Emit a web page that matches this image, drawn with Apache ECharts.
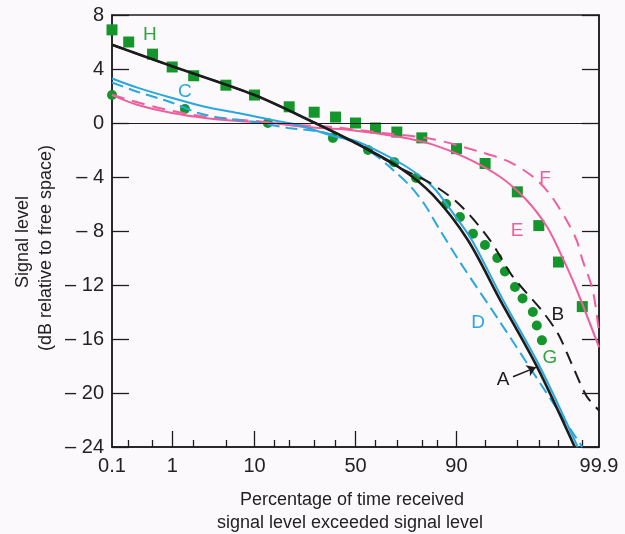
<!DOCTYPE html>
<html>
<head>
<meta charset="utf-8">
<script src="https://cdn.jsdelivr.net/npm/echarts@6/dist/echarts.min.js"></script>
<style>
  html, body { margin: 0; padding: 0; background: #fcf9fc; }
  #chart { width: 625px; height: 534px; }
</style>
</head>
<body>
<div id="chart"></div>
<script>
// percentage of time the received level is exceeded, and level in dB
const pctA = [0.1, 1, 10, 30.4, 50, 71.4, 83.7, 92.3, 96.67, 98.94, 99.73]
const dbA = [5.8, 4.2, 2.07, 0, -1.48, -3.33, -5.33, -8.67, -13.1, -18.07, -24]

const pctB = [0.1, 1, 10, 30.4, 50, 71.4, 82.8, 90.75, 95.6, 97.65, 99.1, 99.49, 99.7, 99.83, 99.9]
const dbB = [5.8, 4.2, 2.07, 0, -1.48, -3.33, -4.44, -6.07, -8.67, -11.3, -13.9, -15.6, -17.9, -20.2, -21.3]

const pctC = [0.1, 0.29, 1, 2.8, 6.8, 14.5, 23.3, 38.7, 50, 62.2, 74.3, 83.7, 89.2, 93.0, 96.94, 99.04, 99.76]
const dbC = [3.3, 2.6, 1.85, 1.2, 0.74, 0.22, -0.15, -0.96, -1.33, -2.15, -3.26, -4.74, -6.67, -8.67, -13.1, -18.07, -24]

const pctD = [0.1, 0.29, 1, 2.3, 4.6, 10, 19.6, 33.5, 50, 59.8, 68.3, 75.6, 81.1, 85.8, 90.75, 96.67, 99.04, 99.8]
const dbD = [3.0, 2.3, 1.5, 0.74, 0.37, 0.07, -0.37, -0.67, -1.48, -2.37, -3.48, -4.67, -6.07, -7.93, -10.3, -14.74, -19.26, -24]

const pctE = [0.1, 0.29, 1, 2.8, 6.8, 14.5, 26, 47, 71.4, 83.7, 92.1, 96.7, 98.5, 99.25, 99.53, 99.73, 99.9]
const dbE = [2.07, 1.33, 0.74, 0.37, 0.15, 0, -0.3, -0.52, -1.04, -1.6, -2.6, -4.0, -5.7, -7.7, -9.6, -12, -16.6]

const pctF = [0.1, 0.3, 1, 3, 10, 20, 38.7, 63.7, 83.7, 94.7, 97.5, 98.8, 99.3, 99.63, 99.75, 99.8, 99.87, 99.9]
const dbF = [2.1, 1.5, 0.9, 0.45, 0.15, -0.1, -0.3, -0.74, -1.2, -2.2, -2.9, -4.0, -5.2, -7.2, -8.7, -10.1, -12.4, -15.5]

const pctG = [0.1, 1.52, 13.3, 38.7, 56.3, 68.8, 77.9, 87.5, 90.75, 93.2, 94.98, 96.4, 97.1, 97.85, 98.3, 98.78, 98.93, 99.1]
const dbG = [2.07, 1.04, 0, -1.11, -2.0, -2.9, -4.07, -6.0, -6.96, -8.2, -9.04, -10.0, -11.0, -12.15, -13.0, -14.0, -15.0, -16.1]

const pctH = [0.1, 0.2, 0.5, 1, 2, 5, 10, 20, 30, 40, 50, 60, 70, 80, 90, 95, 98, 99, 99.5, 99.8]
const dbH = [6.9, 6.0, 5.1, 4.15, 3.5, 2.8, 2.07, 1.2, 0.8, 0.44, 0, -0.37, -0.67, -1.1, -1.9, -3.0, -5.1, -7.6, -10.3, -13.6]

const xTickLabels = [0.1, 1, 10, 50, 90, 99.9]
const xMajorTicks = [1, 10, 50, 90]
const xMinorTicks = [0.2, 0.5, 2, 5, 15, 20, 30, 40, 60, 70, 80, 85, 95, 98, 99, 99.5, 99.8]

const BLACK = '#1c1c1c'
const BLUE = '#2aa6e0'
const PINK = '#ef5f9c'
const GREEN = '#15962c'
const TAG_GREEN = '#2ea53c'
const FONT = "'Liberation Sans', Arial, sans-serif"

// normal-probability scale: percentage -> standard normal deviate (Acklam)
function probit(p) {
  const a = [-3.969683028665376e+01, 2.209460984245205e+02, -2.759285104469687e+02, 1.383577518672690e+02, -3.066479806614716e+01, 2.506628277459239e+00]
  const b = [-5.447609879822406e+01, 1.615858368580409e+02, -1.556989798598866e+02, 6.680131188771972e+01, -1.328068155288572e+01]
  const c = [-7.784894002430293e-03, -3.223964580411365e-01, -2.400758277161838e+00, -2.549671348416840e+00, 4.374664141464968e+00, 2.938163982698783e+00]
  const d = [7.784695709041462e-03, 3.224671290700398e-01, 2.445134137142996e+00, 3.754408661907416e+00]
  const lo = 0.02425
  if (p < lo) {
    const q = Math.sqrt(-2 * Math.log(p))
    return (((((c[0] * q + c[1]) * q + c[2]) * q + c[3]) * q + c[4]) * q + c[5]) / ((((d[0] * q + d[1]) * q + d[2]) * q + d[3]) * q + 1)
  }
  if (p <= 1 - lo) {
    const q = p - 0.5, r = q * q
    return (((((a[0] * r + a[1]) * r + a[2]) * r + a[3]) * r + a[4]) * r + a[5]) * q / (((((b[0] * r + b[1]) * r + b[2]) * r + b[3]) * r + b[4]) * r + 1)
  }
  const q = Math.sqrt(-2 * Math.log(1 - p))
  return -(((((c[0] * q + c[1]) * q + c[2]) * q + c[3]) * q + c[4]) * q + c[5]) / ((((d[0] * q + d[1]) * q + d[2]) * q + d[3]) * q + 1)
}
const zOf = pct => probit(pct / 100)
const toXY = (pcts, dbs) => pcts.map((p, i) => [zOf(p), dbs[i]])

const xMin = zOf(0.1)
const xMax = zOf(99.9)

const chart = echarts.init(document.getElementById('chart'))

const lineSeries = (name, pcts, dbs, color, type, width) => ({
  name,
  type: 'line',
  data: toXY(pcts, dbs),
  smooth: 0.3,
  showSymbol: false,
  clip: true,
  lineStyle: { color, width, type }
})

// curve letters, placed in data coordinates
const tags = [
  { name: 'H', pct: 0.455, db: 6.5, color: TAG_GREEN },
  { name: 'C', pct: 1.52, db: 2.3, color: BLUE },
  { name: 'F', pct: 99.19, db: -4.1, color: PINK },
  { name: 'E', pct: 97.98, db: -8.0, color: PINK },
  { name: 'D', pct: 94.0, db: -14.8, color: BLUE },
  { name: 'B', pct: 99.49, db: -14.2, color: BLACK },
  { name: 'G', pct: 99.32, db: -17.4, color: TAG_GREEN },
  { name: 'A', pct: 96.94, db: -19.0, color: BLACK }
]

const seriesA = lineSeries('A', pctA, dbA, BLACK, 'solid', 2.6)
seriesA.markLine = {
  silent: true,
  symbol: ['none', 'arrow'],
  symbolSize: 9,
  label: { show: false },
  lineStyle: { color: BLACK, width: 1.5, type: 'solid' },
  data: [[{ coord: [zOf(97.72), -18.8] }, { coord: [zOf(98.9), -18.1] }]]
}
const seriesB = lineSeries('B', pctB, dbB, BLACK, [13, 8], 2)
seriesB.markLine = {
  silent: true,
  symbol: ['none', 'none'],
  label: { show: false },
  lineStyle: { color: BLACK, width: 1.2, type: 'solid' },
  data: [{ yAxis: 0 }]
}

const yAxisBase = {
  type: 'value', min: -24, max: 8, interval: 4,
  axisLine: { show: true, onZero: false, lineStyle: { color: BLACK, width: 1.5 } },
  splitLine: { show: false },
  axisTick: { show: true, inside: true, length: 17, lineStyle: { color: BLACK, width: 1.3 } }
}

const option = {
  backgroundColor: '#fcf9fc',
  animation: false,
  textStyle: { fontFamily: FONT },
  grid: {
    left: 112, right: 26, top: 15, bottom: 87,
    show: true, borderColor: BLACK, borderWidth: 1.5, backgroundColor: 'transparent'
  },
  xAxis: [
    {
      type: 'value', min: xMin, max: xMax, position: 'bottom',
      axisLine: { show: true, onZero: false, lineStyle: { color: BLACK, width: 1.5 } },
      splitLine: { show: false },
      axisTick: {
        show: true, inside: true, length: 16,
        lineStyle: { color: BLACK, width: 1.3 },
        customValues: xMajorTicks.map(zOf)
      },
      axisLabel: {
        color: '#222', fontSize: 20, margin: 9, fontFamily: FONT,
        customValues: xTickLabels.map(zOf),
        formatter: v => {
          const hit = xTickLabels.find(p => Math.abs(zOf(p) - v) < 1e-6)
          return hit === undefined ? '' : String(hit)
        }
      }
    },
    {
      type: 'value', min: xMin, max: xMax, position: 'bottom',
      axisLine: { show: false, onZero: false },
      splitLine: { show: false },
      axisTick: {
        show: true, inside: true, length: 7,
        lineStyle: { color: BLACK, width: 1.3 },
        customValues: xMinorTicks.map(zOf)
      },
      axisLabel: { show: false }
    }
  ],
  yAxis: [
    Object.assign({}, yAxisBase, {
      position: 'left',
      axisLabel: {
        color: '#222', fontSize: 20, margin: 8, fontFamily: FONT,
        formatter: v => (v < 0 ? '\u2013 ' + Math.abs(v) : String(v))
      }
    }),
    Object.assign({}, yAxisBase, { position: 'right', axisLabel: { show: false } })
  ],
  graphic: [
    {
      type: 'text', x: 23, y: 242, rotation: Math.PI / 2,
      style: { text: 'Signal level', font: '18px ' + FONT, fill: '#222', textAlign: 'center', textVerticalAlign: 'middle' }
    },
    {
      type: 'text', x: 46, y: 248, rotation: Math.PI / 2,
      style: { text: '(dB relative to free space)', font: '18px ' + FONT, fill: '#222', textAlign: 'center', textVerticalAlign: 'middle' }
    },
    {
      type: 'text', x: 352, y: 500,
      style: { text: 'Percentage of time received', font: '18px ' + FONT, fill: '#222', textAlign: 'center', textVerticalAlign: 'middle' }
    },
    {
      type: 'text', x: 350, y: 523,
      style: { text: 'signal level exceeded signal level', font: '18px ' + FONT, fill: '#222', textAlign: 'center', textVerticalAlign: 'middle' }
    }
  ],
  series: [
    lineSeries('F', pctF, dbF, PINK, [13, 8], 2),
    lineSeries('E', pctE, dbE, PINK, 'solid', 2),
    lineSeries('D', pctD, dbD, BLUE, [12, 6], 2),
    lineSeries('C', pctC, dbC, BLUE, 'solid', 2),
    seriesB,
    seriesA,
    {
      name: 'G', type: 'scatter', symbol: 'circle', symbolSize: 10,
      data: toXY(pctG, dbG), itemStyle: { color: GREEN, opacity: 1 }, clip: false
    },
    {
      name: 'H', type: 'scatter', symbol: 'rect', symbolSize: 11,
      data: toXY(pctH, dbH), itemStyle: { color: GREEN, opacity: 1 }, clip: false
    },
    {
      name: 'tags', type: 'scatter', symbolSize: 0, silent: true,
      itemStyle: { opacity: 1 },
      data: tags.map(t => ({
        name: t.name,
        value: [zOf(t.pct), t.db],
        label: { color: t.color }
      })),
      label: { show: true, position: 'inside', formatter: '{b}', fontSize: 19, fontFamily: FONT, opacity: 1 }
    }
  ]
}

chart.setOption(option)
</script>
</body>
</html>
